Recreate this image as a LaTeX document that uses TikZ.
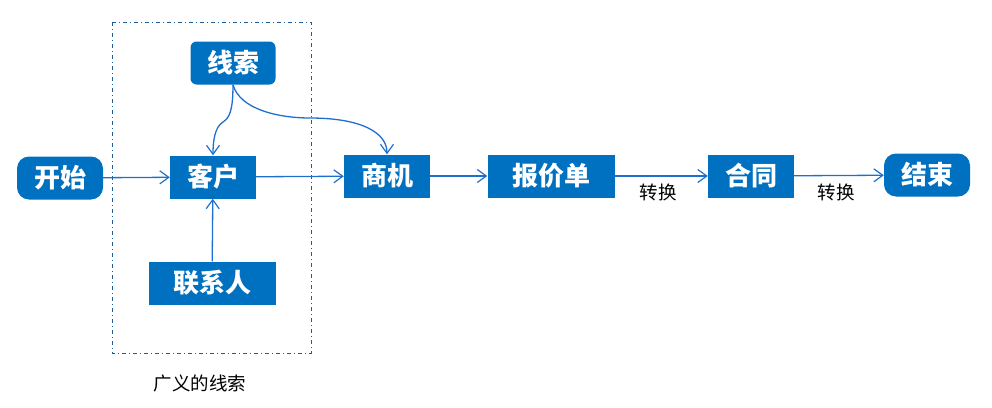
\documentclass[tikz,border=0pt]{standalone}
\usepackage{fontspec}
\setmainfont{Noto Sans CJK SC}
\usetikzlibrary{arrows.meta}

\definecolor{boxblue}{HTML}{0070C0}
\definecolor{lineblue}{HTML}{1F6FD0}
\definecolor{frameblue}{HTML}{1F5C99}

\tikzset{
	stage/.style={fill=boxblue, text=white, minimum height=43pt, inner sep=0pt,
		font=\fontsize{26}{28}\selectfont\bfseries},
	terminal/.style={stage, rounded corners=12pt},
	flow/.style={draw=lineblue, line width=1.3pt, -{Straight Barb[length=9pt,width=13pt,line width=1.2pt]}},
	note/.style={font=\fontsize{18.5}{21}\selectfont}
}

\begin{document}
\begin{tikzpicture}[x=1pt,y=-1pt]
	\useasboundingbox (0,0) rectangle (992,407);
	% grouping frame around the lead objects
	\draw [frameblue, line width=1pt, dash pattern=on 4pt off 3pt on 1pt off 3pt] (112,22) rectangle (311,353);
	\node [note] (group) at (200,384) {广义的线索};

	\node [terminal, minimum width=86pt] (start) at (60,178) {开始};
	\node [stage, minimum width=86pt] (customer) at (213,177) {客户};
	\node [stage, rounded corners=6pt, minimum width=85pt] (lead) at (233,63) {线索};
	\node [stage, minimum width=127pt] (contact) at (212,283) {联系人};
	\node [stage, minimum width=86pt] (opp) at (387,176) {商机};
	\node [stage, minimum width=127pt] (quote) at (551,176) {报价单};
	\node [stage, minimum width=86pt] (contract) at (751,176) {合同};
	\node [terminal, minimum width=86pt] (finish) at (927,175) {结束};

	\draw [flow] (start) -- (customer);
	\draw [flow] (customer) -- (opp);
	\draw [flow] (opp) -- (quote);
	\draw [flow] (quote) -- (contract);
	\draw [flow] (contract) -- (finish);
	\draw [flow] (contact) -- (customer);
	\draw [flow] (lead.south) .. controls (233,112) and (229,118) .. (223,122)
		.. controls (215,127) and (213,140) .. (customer.north);
	\draw [flow] (lead.south) .. controls (240,110) and (280,118) .. (310,118)
		.. controls (360,118) and (387,132) .. (opp.north);

	\node [note] (convA) at (658,192) {转换};
	\node [note] (convB) at (836,192) {转换};
\end{tikzpicture}
\end{document}
